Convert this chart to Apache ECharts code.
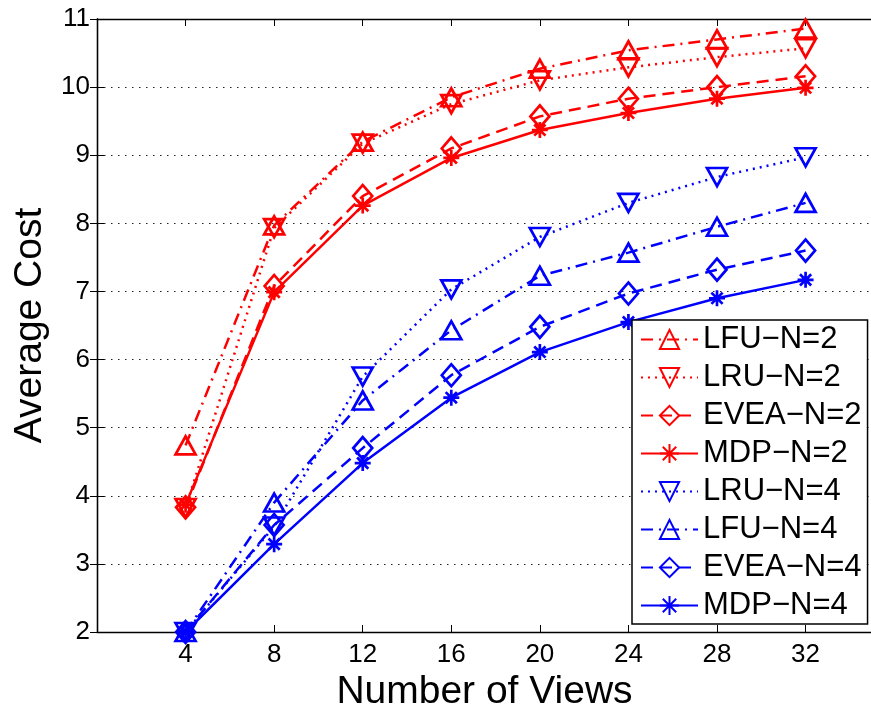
<!DOCTYPE html>
<html>
<head>
<meta charset="utf-8">
<script src="https://cdn.jsdelivr.net/npm/echarts@6/dist/echarts.min.js"></script>
<style>
  html, body { margin: 0; padding: 0; background: #fff; overflow: hidden; }
  #main { width: 873px; height: 711px; }
</style>
</head>
<body>
<div id="main"></div>
<script>
// number of views (x)
var views = [4, 8, 12, 16, 20, 24, 28, 32]
// average cost
var lfuN2 = [4.74, 7.97, 9.20, 9.85, 10.27, 10.54, 10.70, 10.86]
var lruN2 = [3.82, 7.93, 9.17, 9.75, 10.10, 10.29, 10.44, 10.57]
var eveaN2 = [3.83, 7.08, 8.40, 9.10, 9.57, 9.83, 10.00, 10.16]
var mdpN2 = [3.87, 6.99, 8.26, 8.96, 9.37, 9.62, 9.83, 9.99]
var lruN4 = [2.00, 3.55, 5.75, 7.03, 7.80, 8.30, 8.68, 8.97]
var lfuN4 = [2.00, 3.90, 5.40, 6.43, 7.23, 7.57, 7.95, 8.30]
var eveaN4 = [2.00, 3.57, 4.70, 5.77, 6.48, 6.97, 7.32, 7.60]
var mdpN4 = [2.00, 3.29, 4.48, 5.44, 6.11, 6.55, 6.90, 7.17]
var yTicks = [2, 3, 4, 5, 6, 7, 8, 9, 10, 11]

var RED = '#ff0000'
var BLUE = '#0000ff'
var STAR = 'path://M10,0L10,20M0,10L20,10M3,3L17,17M3,17L17,3'

// matlab-ish line styles
var DOT = [2, 5]
var DASH = [12, 7]
var DASHDOT = [12, 6, 2, 6]

function pairs(ys) {
  return views.map(function (x, i) { return [x, ys[i]] })
}

function mk(name, ys, color, dash, marker) {
  var s = {
    name: name,
    type: 'line',
    data: pairs(ys),
    symbol: 'triangle',
    symbolSize: [20, 18],
    lineStyle: { color: color, width: 2.5, type: dash },
    itemStyle: { color: 'rgba(0,0,0,0)', borderColor: color, borderWidth: 2.7 },
    emphasis: { disabled: true },
    animation: false
  }
  if (marker === 'down') {
    s.symbolRotate = 180
  } else if (marker === 'diamond') {
    s.symbol = 'diamond'
    s.symbolSize = [19, 22]
  } else if (marker === 'star') {
    s.symbol = STAR
    s.symbolSize = 16
  }
  return s
}

var myChart = echarts.init(document.getElementById('main'))
var font = 'Liberation Sans, Arial, Helvetica, sans-serif'

myChart.setOption({
  backgroundColor: '#fff',
  animation: false,
  textStyle: { fontFamily: font },
  grid: { left: 97, right: 1, top: 19, bottom: 79, containLabel: false, outerBoundsMode: 'none' },
  legend: {
    orient: 'vertical',
    left: 632,
    top: 320,
    padding: [4, 6, 3, 8],
    itemGap: 7,
    itemWidth: 57,
    itemHeight: 24,
    backgroundColor: '#fff',
    borderColor: '#000',
    borderWidth: 1.5,
    borderRadius: 0,
    textStyle: { fontSize: 31, color: '#000', fontFamily: font, lineHeight: 30 },
    data: ['LFU−N=2', 'LRU−N=2', 'EVEA−N=2', 'MDP−N=2', 'LRU−N=4', 'LFU−N=4', 'EVEA−N=4', 'MDP−N=4']
  },
  xAxis: [
    {
      type: 'value',
      min: 0,
      max: 35,
      interval: 4,
      name: 'Number of Views',
      nameLocation: 'middle',
      nameGap: 36,
      nameTextStyle: { fontSize: 39, color: '#000', fontFamily: font },
      axisLine: { lineStyle: { color: '#000', width: 1.3 } },
      axisTick: { inside: true, length: 7, lineStyle: { color: '#000' } },
      axisLabel: {
        fontSize: 26, color: '#000', margin: 10,
        formatter: function (v) { return (v === 0 || v > 32) ? '' : String(v) }
      },
      splitLine: { show: false }
    },
    {
      type: 'value',
      position: 'top',
      min: 0,
      max: 35,
      interval: 4,
      axisLine: { lineStyle: { color: '#000', width: 1.3 } },
      axisTick: { inside: true, length: 7, lineStyle: { color: '#000' } },
      axisLabel: { show: false },
      splitLine: { show: false }
    }
  ],
  yAxis: [
    {
      type: 'value',
      min: yTicks[0],
      max: yTicks[yTicks.length - 1],
      interval: 1,
      name: 'Average Cost',
      nameLocation: 'middle',
      nameGap: 46,
      nameTextStyle: { fontSize: 39, color: '#000', fontFamily: font },
      axisLine: { lineStyle: { color: '#000', width: 1.3 } },
      axisTick: { inside: true, length: 7, lineStyle: { color: '#000' } },
      axisLabel: { fontSize: 26, color: '#000', margin: 7 },
      splitLine: { show: true, lineStyle: { color: '#222', width: 1, type: [1.5, 5.5] } }
    },
    {
      type: 'value',
      position: 'right',
      min: yTicks[0],
      max: yTicks[yTicks.length - 1],
      interval: 1,
      axisLine: { lineStyle: { color: '#000', width: 1.3 } },
      axisTick: { inside: true, length: 7, lineStyle: { color: '#000' } },
      axisLabel: { show: false },
      splitLine: { show: false }
    }
  ],
  series: [
    mk('LFU−N=2', lfuN2, RED, DASHDOT, 'up'),
    mk('LRU−N=2', lruN2, RED, DOT, 'down'),
    mk('EVEA−N=2', eveaN2, RED, DASH, 'diamond'),
    mk('MDP−N=2', mdpN2, RED, 'solid', 'star'),
    mk('LRU−N=4', lruN4, BLUE, DOT, 'down'),
    mk('LFU−N=4', lfuN4, BLUE, DASHDOT, 'up'),
    mk('EVEA−N=4', eveaN4, BLUE, DASH, 'diamond'),
    mk('MDP−N=4', mdpN4, BLUE, 'solid', 'star')
  ]
})
</script>
</body>
</html>
